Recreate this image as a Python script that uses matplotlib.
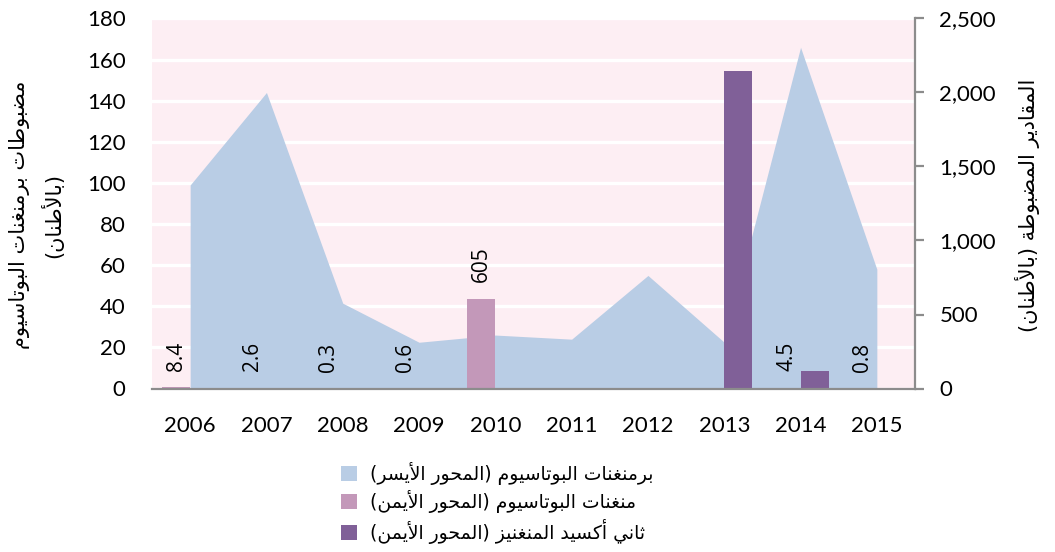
import matplotlib
matplotlib.use("Agg")
import matplotlib.pyplot as plt
import numpy as np
from matplotlib.patches import Patch
from matplotlib.ticker import FuncFormatter, MultipleLocator

# ---------------- data ----------------
years = ["2006", "2007", "2008", "2009", "2010", "2011", "2012", "2013", "2014", "2015"]
permanganate_left = [99, 144, 41.5, 22.5, 26, 24, 55, 22.5, 166, 58]          # left axis (area)
manganate_right = [8.4, 2.6, 0.3, 0.6, 605, 0, 0, 0, 4.5, 0.8]                  # right axis (bars)
manganate_labels = ["8.4", "2.6", "0.3", "0.6", "605", "", "", "", "4.5", "0.8"]
dioxide_right = [0, 0, 0, 0, 0, 0, 0, 2145, 118, 0]                             # right axis (bars)

left_ylabel = "مضبوطات برمنغنات البوتاسيوم\n(بالأطنان)"
right_ylabel = "المقادير المضبوطة (بالأطنان)"
legend_labels = [
    "برمنغنات البوتاسيوم (المحور الأيسر)",
    "منغنات البوتاسيوم (المحور الأيمن)",
    "ثاني أكسيد المنغنيز (المحور الأيمن)",
]

# ------------- arabic shaping for display (matplotlib has no shaping) -------------
_RIGHT = {'آ': 0xFE81, 'أ': 0xFE83, 'ؤ': 0xFE85, 'إ': 0xFE87, 'ا': 0xFE8D, 'ة': 0xFE93,
          'د': 0xFEA9, 'ذ': 0xFEAB, 'ر': 0xFEAD, 'ز': 0xFEAF, 'و': 0xFEED, 'ى': 0xFEEF}
_DUAL = {'ئ': 0xFE89, 'ب': 0xFE8F, 'ت': 0xFE95, 'ث': 0xFE99, 'ج': 0xFE9D, 'ح': 0xFEA1,
         'خ': 0xFEA5, 'س': 0xFEB1, 'ش': 0xFEB5, 'ص': 0xFEB9, 'ض': 0xFEBD, 'ط': 0xFEC1,
         'ظ': 0xFEC5, 'ع': 0xFEC9, 'غ': 0xFECD, 'ف': 0xFED1, 'ق': 0xFED5, 'ك': 0xFED9,
         'ل': 0xFEDD, 'م': 0xFEE1, 'ن': 0xFEE5, 'ه': 0xFEE9, 'ي': 0xFEF1}
_LAMALEF = {'آ': 0xFEF5, 'أ': 0xFEF7, 'إ': 0xFEF9, 'ا': 0xFEFB}
_MIRROR = {'(': ')', ')': '('}


def _shape_line(s):
    toks = []
    i = 0
    while i < len(s):
        c = s[i]
        if c == 'ل' and i + 1 < len(s) and s[i + 1] in _LAMALEF:
            toks.append(('LA', s[i + 1]))
            i += 2
        else:
            toks.append(('C', c))
            i += 1

    def is_letter(t):
        return t[0] == 'LA' or t[1] in _RIGHT or t[1] in _DUAL or t[1] == 'ء'

    def joins_next(t):
        return t[0] == 'C' and t[1] in _DUAL

    out = []
    for k, t in enumerate(toks):
        prev_j = k > 0 and joins_next(toks[k - 1]) and is_letter(t)
        next_j = joins_next(t) and k + 1 < len(toks) and is_letter(toks[k + 1])
        if t[0] == 'LA':
            out.append(chr(_LAMALEF[t[1]] + (1 if prev_j else 0)))
        elif t[1] in _DUAL:
            b = _DUAL[t[1]]
            if prev_j and next_j:
                out.append(chr(b + 3))
            elif next_j:
                out.append(chr(b + 2))
            elif prev_j:
                out.append(chr(b + 1))
            else:
                out.append(chr(b))
        elif t[1] in _RIGHT:
            out.append(chr(_RIGHT[t[1]] + (1 if prev_j else 0)))
        else:
            out.append(t[1])
    vis = ''.join(_MIRROR.get(c, c) for c in reversed(out))
    return vis


def ar(s):
    return '\n'.join(_shape_line(l) for l in s.split('\n'))


# ---------------- style ----------------
plt.rcParams['font.family'] = ['Lato', 'DejaVu Sans']
AR_FONT = ['DejaVu Sans']

col_area = '#B9CDE5'
col_mang = '#C398B9'
col_diox = '#806098'
col_bg = '#FDEEF3'
col_spine = '#8C8C8C'

W, H = 1055, 552
fig = plt.figure(figsize=(W / 100, H / 100), dpi=100)
ax = fig.add_axes([152 / W, 1 - 388.5 / H, (915 - 152) / W, (388.5 - 18.5) / H])
ax2 = ax.twinx()

x = np.arange(len(years))
ax.set_facecolor(col_bg)
ax.fill_between(x, permanganate_left, 0, color=col_area, linewidth=0, zorder=2)
ax.set_ylim(0, 180)
ax.set_xlim(-0.5, len(years) - 0.5)
ax.yaxis.set_major_locator(MultipleLocator(20))
ax.grid(axis='y', color='white', linewidth=2.4, zorder=1)
ax.set_axisbelow(True)

bw = 0.367
ax2.bar(x - bw / 2, manganate_right, width=bw, color=col_mang, zorder=2)
ax2.bar(x + bw / 2, dioxide_right, width=bw, color=col_diox, zorder=2)
ax2.set_ylim(0, 2500)
ax2.yaxis.set_major_locator(MultipleLocator(500))
ax2.yaxis.set_major_formatter(FuncFormatter(lambda v, p: f"{int(v):,}"))

for xi, v, lab in zip(x, manganate_right, manganate_labels):
    if lab:
        ax2.annotate(lab, (xi - bw / 2, v), xytext=(0, 12), textcoords='offset points',
                     rotation=90, ha='center', va='bottom', fontsize=15, family='Open Sans')

# spines & ticks
for a in (ax, ax2):
    for s in ('top', 'left'):
        a.spines[s].set_visible(False)
ax.spines['right'].set_visible(False)
ax.spines['bottom'].set_visible(False)
ax2.spines['bottom'].set_visible(True)
ax2.spines['bottom'].set_color(col_spine)
ax2.spines['bottom'].set_linewidth(1.6)
ax2.spines['bottom'].set_zorder(3)
ax2.spines['right'].set_color(col_spine)
ax2.spines['right'].set_linewidth(1.6)
ax2.spines['right'].set_zorder(3)

ax.set_xticks(x)
ax.set_xticklabels(years)
ax.tick_params(axis='x', length=0, pad=20, labelsize=16)
ax.tick_params(axis='y', length=0, pad=19, labelsize=16)
ax2.tick_params(axis='y', length=6.5, width=1.6, color=col_spine, pad=11, labelsize=16)
ax2.tick_params(axis='x', bottom=False, labelbottom=False)

# axis titles
fig.text(37 / W, 1 - 215 / H, ar(left_ylabel), rotation=90, ha='center', va='center',
         multialignment='center', fontsize=15, family=AR_FONT, linespacing=1.6)
fig.text(1028 / W, 1 - 205 / H, ar(right_ylabel), rotation=90, ha='center', va='center',
         fontsize=15, family=AR_FONT)

# legend
handles = [Patch(facecolor=c, edgecolor='none') for c in (col_area, col_mang, col_diox)]
leg = fig.legend(handles, [ar(l) for l in legend_labels], loc='upper left',
                 bbox_to_anchor=(324 / W, 1 - 445 / H), frameon=False,
                 handlelength=0.85, handleheight=0.85, handletextpad=0.7,
                 labelspacing=0.29, prop={'family': AR_FONT, 'size': 13.5})

fig.savefig('out.png', dpi=100)
